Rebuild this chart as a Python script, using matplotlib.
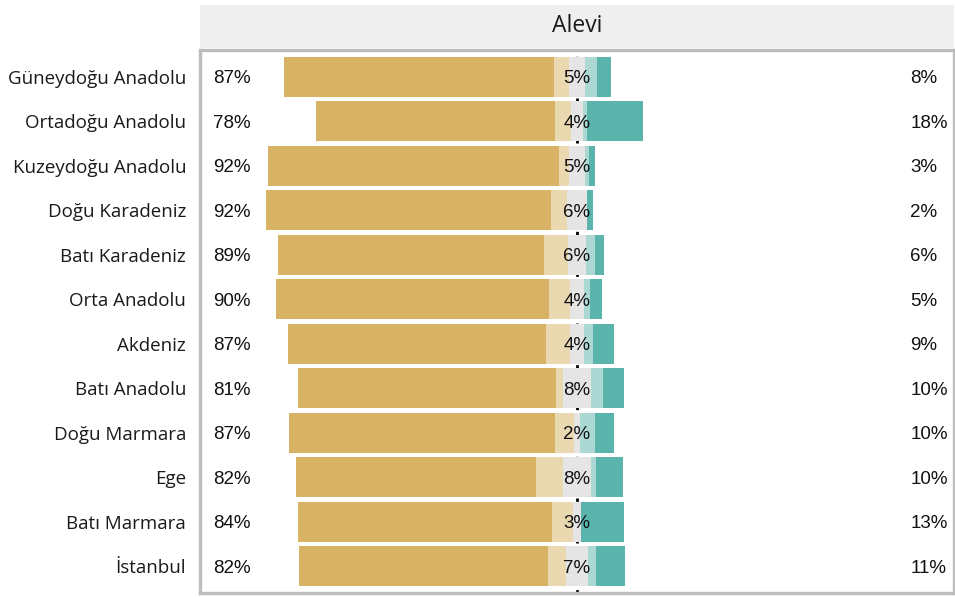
import numpy as np
import matplotlib
matplotlib.use("Agg")
import matplotlib.pyplot as plt
from matplotlib.patches import Rectangle

# regions, top to bottom
regions = ["Güneydoğu Anadolu", "Ortadoğu Anadolu", "Kuzeydoğu Anadolu",
           "Doğu Karadeniz", "Batı Karadeniz", "Orta Anadolu", "Akdeniz",
           "Batı Anadolu", "Doğu Marmara", "Ege", "Batı Marmara", "İstanbul"]

# segment shares (%)
strong_neg = [82.6, 73.1, 89.0, 87.2, 81.3, 83.5, 78.9, 78.9, 81.3, 73.4, 77.7, 76.1]
mild_neg   = [4.6, 4.9, 3.1, 4.9, 7.3, 6.7, 7.6, 2.4, 5.8, 8.3, 6.4, 5.5]
neutral    = [4.9, 3.7, 4.6, 6.1, 5.5, 4.0, 4.0, 8.3, 2.1, 8.3, 2.4, 6.7]
mild_pos   = [3.7, 1.2, 1.5, 0.0, 2.8, 2.1, 2.8, 3.7, 4.6, 1.8, 0.0, 2.4]
strong_pos = [4.3, 17.1, 1.8, 1.8, 2.8, 3.4, 6.4, 6.4, 5.8, 8.0, 13.1, 8.9]

# printed labels
lab_neg = [87, 78, 92, 92, 89, 90, 87, 81, 87, 82, 84, 82]
lab_neu = [5, 4, 5, 6, 6, 4, 4, 8, 2, 8, 3, 7]
lab_pos = [8, 18, 3, 2, 6, 5, 9, 10, 10, 10, 13, 11]

colors = ["#D8B365", "#EAD8B0", "#E5E5E5", "#ACD8D4", "#5AB4AC"]

W, H = 955, 597
fig = plt.figure(figsize=(W / 100, H / 100), dpi=100)
ax = fig.add_axes([200 / W, 4 / H, 754 / W, 543 / H])

y = np.arange(len(regions))
sn = np.array(strong_neg); mn = np.array(mild_neg); nu = np.array(neutral)
mp = np.array(mild_pos); sp = np.array(strong_pos)

left0 = -(sn + mn + nu / 2)
starts = [left0, left0 + sn, left0 + sn + mn, nu / 2, nu / 2 + mp]
widths = [sn, mn, nu, mp, sp]
for st, wd, c in zip(starts, widths, colors):
    ax.barh(y, wd, left=st, height=0.9, color=c, zorder=2)

ax.axvline(0, color="black", linestyle=(0, (1.2, 1.8)), linewidth=2, zorder=1)

pfont = dict(family="Liberation Sans", fontsize=13.5, color="#111111",
             va="center_baseline")
for i in range(len(regions)):
    ax.text(-111.3, y[i], f"{lab_neg[i]}%", ha="left", **pfont, zorder=3)
    ax.text(0, y[i], f"{lab_neu[i]}%", ha="center", **pfont, zorder=3)
    ax.text(101.9, y[i], f"{lab_pos[i]}%", ha="left", **pfont, zorder=3)

ax.set_xlim(-115.3, 115.3)
ax.set_ylim(len(regions) - 0.4, -0.6)
ax.set_yticks(y)
ax.set_yticklabels(regions, family="Open Sans", fontsize=13.5, color="#1a1a1a")
ax.tick_params(axis="y", length=0, pad=10)
ax.set_xticks([])
for s in ax.spines.values():
    s.set_color("#BDBDBD")
    s.set_linewidth(2.4)

# facet strip
sax = fig.add_axes([200 / W, (H - 48) / H, 754 / W, 43 / H])
sax.add_patch(Rectangle((0, 0), 1, 1, color="#EFEFEF", transform=sax.transAxes))
sax.text(0.5, 0.5, "Alevi", ha="center", va="center", family="Open Sans",
         fontsize=16.5, color="#1a1a1a", transform=sax.transAxes)
sax.set_axis_off()

fig.savefig("out.png", dpi=100)
